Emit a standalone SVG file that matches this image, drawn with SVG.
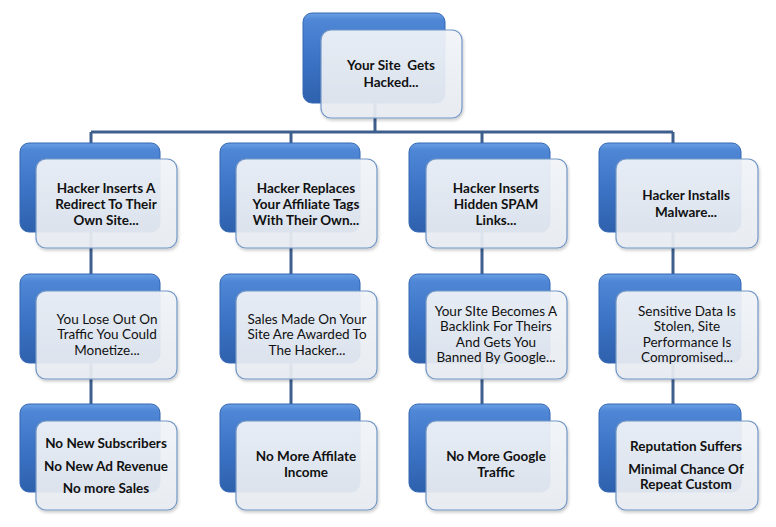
<svg xmlns="http://www.w3.org/2000/svg" width="776" height="527" viewBox="0 0 776 527">
<defs>
<linearGradient id="blueG" x1="0" y1="0" x2="0" y2="1">
<stop offset="0" stop-color="#6a9fe4"/>
<stop offset="0.08" stop-color="#4f87d6"/>
<stop offset="0.5" stop-color="#3d74c6"/>
<stop offset="1" stop-color="#2e61ad"/>
</linearGradient>
<linearGradient id="lightG" x1="0" y1="0" x2="0" y2="1">
<stop offset="0" stop-color="#f2f5f9"/>
<stop offset="1" stop-color="#e8ecf2"/>
</linearGradient>
<filter id="sh" x="-10%" y="-10%" width="125%" height="130%">
<feDropShadow dx="1" dy="2" stdDeviation="1.5" flood-color="#000" flood-opacity="0.22"/>
</filter>
</defs>
<style>
.blue{fill:url(#blueG);stroke:#3567b3;stroke-width:1}
.light{fill:url(#lightG);fill-opacity:0.92;stroke:#7397c6;stroke-width:1.2;filter:url(#sh)}
.conn{stroke:#3e5f8d;stroke-width:3;fill:none}
text{font-family:Lato,"Liberation Sans",sans-serif;font-size:13.5px;fill:#111;text-anchor:middle}
.b{font-weight:bold}
</style>
<rect width="776" height="527" fill="#fff"/>
<g id="connectors">
<path class="conn" d="M375,103 V132 M91,132 H673 M91,132 V404 M291,132 V404 M482,132 V404 M673,132 V404"/>
</g>
<g id="n-top">
<rect class="blue" x="303" y="13" width="142" height="90" rx="9"/>
<rect class="light" x="321" y="30" width="141" height="88" rx="10"/>
<text class="b" x="391" y="69.5" style="white-space:pre">Your Site  Gets</text>
<text class="b" x="391" y="86.5">Hacked...</text>
</g>
<g id="n-r1c1">
<rect class="blue" x="20" y="143" width="140" height="89" rx="9"/>
<rect class="light" x="36" y="159" width="141" height="89" rx="10"/>
<text class="b" x="106" y="192.5">Hacker Inserts A</text>
<text class="b" x="106" y="208.5">Redirect To Their</text>
<text class="b" x="106" y="224.5">Own Site...</text>
</g>
<g id="n-r1c2">
<rect class="blue" x="220" y="143" width="140" height="89" rx="9"/>
<rect class="light" x="236" y="159" width="141" height="89" rx="10"/>
<text class="b" x="306" y="192.5">Hacker Replaces</text>
<text class="b" x="306" y="208.5">Your Affiliate Tags</text>
<text class="b" x="306" y="224.5">With Their Own...</text>
</g>
<g id="n-r1c3">
<rect class="blue" x="409" y="143" width="141" height="89" rx="9"/>
<rect class="light" x="426" y="159" width="141" height="89" rx="10"/>
<text class="b" x="496" y="192.5">Hacker Inserts</text>
<text class="b" x="496" y="208.5">Hidden SPAM</text>
<text class="b" x="496" y="224.5">Links...</text>
</g>
<g id="n-r1c4">
<rect class="blue" x="599" y="143" width="142" height="89" rx="9"/>
<rect class="light" x="616" y="159" width="142" height="89" rx="10"/>
<text class="b" x="686" y="199.5">Hacker Installs</text>
<text class="b" x="686" y="216.5">Malware...</text>
</g>
<g id="n-r2c1">
<rect class="blue" x="20" y="274" width="140" height="89" rx="9"/>
<rect class="light" x="36" y="291" width="141" height="88" rx="10"/>
<text x="107" y="323.5">You Lose Out On</text>
<text x="107" y="338.5">Traffic You Could</text>
<text x="107" y="354.5">Monetize...</text>
</g>
<g id="n-r2c2">
<rect class="blue" x="220" y="274" width="140" height="89" rx="9"/>
<rect class="light" x="236" y="291" width="141" height="88" rx="10"/>
<text x="307" y="323.5">Sales Made On Your</text>
<text x="307" y="338.5">Site Are Awarded To</text>
<text x="307" y="354.5">The Hacker...</text>
</g>
<g id="n-r2c3">
<rect class="blue" x="409" y="274" width="141" height="89" rx="9"/>
<rect class="light" x="426" y="291" width="141" height="88" rx="10"/>
<text x="496" y="315.5">Your SIte Becomes A</text>
<text x="496" y="330.5">Backlink For Theirs</text>
<text x="496" y="346.5">And Gets You</text>
<text x="496" y="361.5">Banned By Google...</text>
</g>
<g id="n-r2c4">
<rect class="blue" x="599" y="274" width="142" height="89" rx="9"/>
<rect class="light" x="616" y="291" width="142" height="88" rx="10"/>
<text x="687" y="315.5">Sensitive Data Is</text>
<text x="687" y="330.5">Stolen, Site</text>
<text x="687" y="346.5">Performance Is</text>
<text x="687" y="361.5">Compromised...</text>
</g>
<g id="n-r3c1">
<rect class="blue" x="20" y="404" width="140" height="88" rx="9"/>
<rect class="light" x="36" y="421" width="141" height="89" rx="10"/>
<text class="b" x="106" y="447.5">No New Subscribers</text>
<text class="b" x="106" y="470.5">No New Ad Revenue</text>
<text class="b" x="106" y="492.5">No more Sales</text>
</g>
<g id="n-r3c2">
<rect class="blue" x="220" y="404" width="140" height="88" rx="9"/>
<rect class="light" x="236" y="421" width="141" height="89" rx="10"/>
<text class="b" x="306" y="460.5">No More Affilate</text>
<text class="b" x="306" y="476.5">Income</text>
</g>
<g id="n-r3c3">
<rect class="blue" x="409" y="404" width="141" height="88" rx="9"/>
<rect class="light" x="426" y="421" width="141" height="89" rx="10"/>
<text class="b" x="496" y="460.5">No More Google</text>
<text class="b" x="496" y="476.5">Traffic</text>
</g>
<g id="n-r3c4">
<rect class="blue" x="599" y="404" width="142" height="88" rx="9"/>
<rect class="light" x="616" y="421" width="142" height="89" rx="10"/>
<text class="b" x="686" y="450.5">Reputation Suffers</text>
<text class="b" x="686" y="473.5">Minimal Chance Of</text>
<text class="b" x="686" y="488.5">Repeat Custom</text>
</g>
</svg>
